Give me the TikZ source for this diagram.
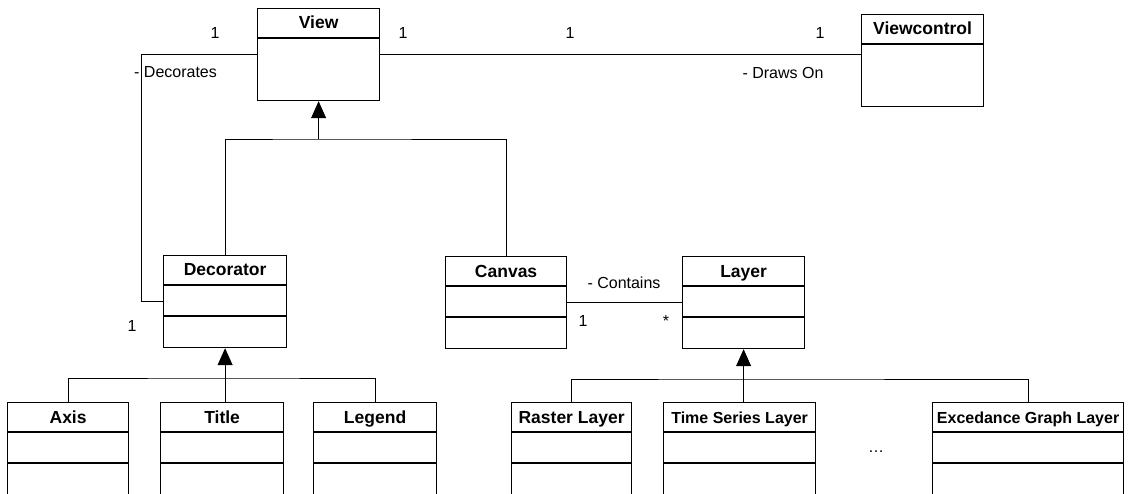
\documentclass[tikz,border=0pt]{standalone}
\usepackage{fontspec}
\setmainfont{Liberation Sans}
\usepackage{tikz}
\usetikzlibrary{arrows.meta,calc}

\begin{document}
\begin{tikzpicture}[x=1pt,y=-1pt,
  clsbox/.style={draw,line width=1.2pt,minimum height=92pt,inner sep=0pt},
  clsname/.style={font=\bfseries,inner sep=0pt},
  lbl/.style={font=\fontsize{16}{19}\selectfont,inner sep=0pt,anchor=base},
  conn/.style={line width=.8pt},
  inh/.style={conn,-{Triangle[length=17pt,width=15pt]}}]
\useasboundingbox (0,0) rectangle (1129,494);
% classes: name / left / top / width / title / compartments / font size
\foreach \nm/\x/\y/\w/\txt/\k/\fs in {view/257/8/122/View/1/17.5,vc/861/14/122/Viewcontrol/1/17.5,
  dec/163/255/123/Decorator/2/17.5,can/445/256/121/Canvas/2/17.5,layer/682/256/122/Layer/2/17.5,
  axis/7/402/121/Axis/2/17.5,title/160/402/123/Title/2/17.5,legend/313/402/123/Legend/2/17.5,
  raster/511/402/120/Raster Layer/2/17.5,ts/663/402/152/Time Series Layer/2/16,
  exc/932/402/191/Excedance Graph Layer/2/16}{
  \node[clsbox,minimum width=\w pt,anchor=north west] (\nm) at (\x,\y) {};
  \node[clsname,anchor=base] (\nm-t) at ($(\nm.north)+(0,21)$) {\fontsize{\fs}{20}\selectfont\txt};
  \draw[line width=1.2pt] ($(\nm.north west)+(0,30)$) -- ($(\nm.north east)+(0,30)$);
  \ifnum\k=2
    \draw[line width=1.2pt] ($(\nm.north west)+(0,61)$) -- ($(\nm.north east)+(0,61)$);
  \fi
}
% associations
\draw[conn] (view.east) -- (view.east -| vc.west);
\draw[conn] (view.west) -- ++(-116,0) |- (dec.west);
\draw[conn] (can.east) -- (layer.west);
% generalisations
\coordinate (vj) at (view.south |- 0,139);
\draw[conn] (dec.north) |- (vj) -| (can.north);
\draw[inh] (vj) -- (view.south);
\coordinate (dj) at (dec.south |- 0,378);
\draw[conn] (axis.north) |- (dj) -| (legend.north);
\draw[inh] (dec.south |- title.north) -- (dec.south);
\coordinate (lj) at (layer.south |- 0,379);
\draw[conn] (raster.north) |- (lj) -| (exc.north);
\draw[inh] (layer.south |- ts.north) -- (layer.south);
% labels
\node[lbl] (m1) at (215,39) {1};
\node[lbl] (m2) at (403,39) {1};
\node[lbl] (m3) at (570,39) {1};
\node[lbl] (m4) at (820,39) {1};
\node[lbl,anchor=base west] (decor) at (134,78) {- Decorates};
\node[lbl] (draws) at (783,79) {- Draws On};
\node[lbl] (m5) at (132,331) {1};
\node[lbl] (contains) at (624,288) {- Contains};
\node[lbl] (m6) at (583,326) {1};
\node[lbl] (m7) at (666,326) {*};
\node[lbl] (more) at (876,452) {\dots};
\end{tikzpicture}
\end{document}
